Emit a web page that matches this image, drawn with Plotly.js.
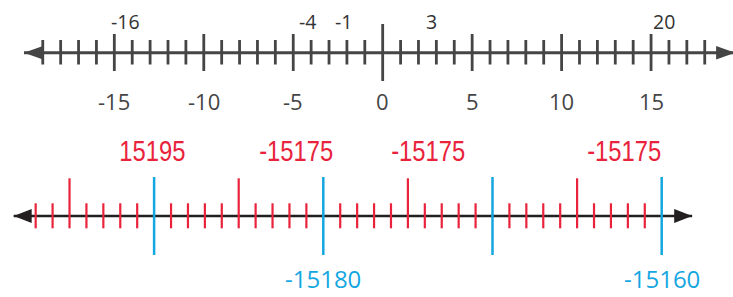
<!DOCTYPE html>
<html><head><meta charset="utf-8">
<script src="https://cdn.plot.ly/plotly-3.0.1.min.js"></script>
<style>html,body{margin:0;padding:0;background:#fff;overflow:hidden}</style>
</head><body><div id="chart" style="width:733px;height:297px"></div>
<script>
// ---------- Data: top number line ----------
const topTicks = [-19,-18,-17,-16,-15,-14,-13,-12,-11,-10,-9,-8,-7,-6,-5,-4,-3,-2,-1,0,1,2,3,4,5,6,7,8,9,10,11,12,13,14,15,16,17,18];
const topMajorTicks = [-15,-10,-5,5,10,15];
const topZeroTick = [0];
const topAxisLabels = [-15,-10,-5,0,5,10,15];
const topMarkLabels = ['-16','-4','-1','3','20'];
const topMarkPos = [-14.4,-4.2,-2.2,2.75,15.7];
const topLineEnds = [-20.05, 19.7];

// ---------- Data: bottom number line ----------
const botRedMinor = [-15197,-15196,-15194,-15193,-15192,-15191,-15189,-15188,-15187,-15186,-15184,-15183,-15182,-15181,-15179,-15178,-15177,-15176,-15174,-15173,-15172,-15171,-15169,-15168,-15167,-15166,-15164,-15163,-15162,-15161];
const botRedTall = [-15195,-15185,-15175,-15165];
const botBlue = [-15190,-15180,-15170,-15160];
const botRedLabels = ['15195','-15175','-15175','-15175'];
const botRedLabelPos = [-15190.1,-15181.6,-15173.8,-15162.2];
const botBlueLabels = ['-15180','-15160'];
const botBluePos = [-15180,-15160];
const botLineEnds = [-15198.3, -15158.2];

// ---------- Layout constants (pixels) ----------
const W = 733, H = 297;
const topRange = [-21.39, 19.58];
const botRange = [-15199.108, -15155.786];
const topPx = W/(topRange[1]-topRange[0]);
const botPx = W/(botRange[1]-botRange[0]);
const GRAY = '#454545', BLACK = '#231f20', RED = '#e8233b', BLUE = '#14a6e1';
const topY = 52.7, botY = 216;
const RED_SQUEEZE = 0.82;

function segs(vals, y1, y2){
  const x=[], y=[];
  vals.forEach(v=>{x.push(v,v,null); y.push(y1,y2,null);});
  return {x,y};
}
function tickTrace(vals,y1,y2,color,width,xa){
  const s=segs(vals,y1,y2);
  return {x:s.x,y:s.y,xaxis:xa,yaxis:'y',mode:'lines',line:{color,width},hoverinfo:'skip',showlegend:false};
}
function arrow(tip,dir,len,half,yc,pxPerUnit,color,xa){
  const base = tip + dir*len/pxPerUnit;
  return {x:[tip,base,base,tip],y:[yc,yc-half,yc+half,yc],xaxis:xa,yaxis:'y',mode:'lines',fill:'toself',
    fillcolor:color,line:{color,width:0},hoverinfo:'skip',showlegend:false};
}

const traces = [
  {x:topLineEnds,y:[topY,topY],xaxis:'x',yaxis:'y',mode:'lines',line:{color:GRAY,width:3},hoverinfo:'skip',showlegend:false},
  tickTrace(topTicks.filter(v=>!topMajorTicks.includes(v)&&!topZeroTick.includes(v)),40,64.5,GRAY,2.8,'x'),
  tickTrace(topMajorTicks,34,71,GRAY,2.8,'x'),
  tickTrace(topZeroTick,24,81,GRAY,2.8,'x'),
  arrow(topLineEnds[0],1,19,6.7,topY,topPx,GRAY,'x'),
  arrow(topLineEnds[1],-1,19,6.7,topY,topPx,GRAY,'x'),
  {x:botLineEnds,y:[botY,botY],xaxis:'x2',yaxis:'y',mode:'lines',line:{color:BLACK,width:2.6},hoverinfo:'skip',showlegend:false},
  tickTrace(botRedMinor,203.3,228.3,RED,2.2,'x2'),
  tickTrace(botRedTall,178.3,228.3,RED,2.2,'x2'),
  tickTrace(botBlue,177,255,BLUE,2.5,'x2'),
  arrow(botLineEnds[0],1,18,6.9,botY,botPx,BLACK,'x2'),
  arrow(botLineEnds[1],-1,18,6.9,botY,botPx,BLACK,'x2')
];

const annotations = [];
topMarkLabels.forEach((t,i)=>annotations.push({x:topMarkPos[i],y:21.5,xref:'x',yref:'y',text:t,showarrow:false,
  font:{family:'Open Sans, sans-serif',size:19.5,color:'#333'},xanchor:'center',yanchor:'middle'}));
topAxisLabels.forEach(v=>annotations.push({x:v,y:101,xref:'x',yref:'y',text:String(v),showarrow:false,
  font:{family:'Open Sans, sans-serif',size:22,color:GRAY},xanchor:'center',yanchor:'middle'}));
botRedLabels.forEach((t,i)=>annotations.push({x:botRedLabelPos[i],y:150.5,xref:'x2',yref:'y',text:t,showarrow:false,
  font:{family:'Liberation Sans, Arial, sans-serif',size:29,color:RED},xanchor:'center',yanchor:'middle'}));
botBlueLabels.forEach((t,i)=>annotations.push({x:botBluePos[i],y:278,xref:'x2',yref:'y',text:t,showarrow:false,
  font:{family:'Open Sans, sans-serif',size:24,color:BLUE},xanchor:'center',yanchor:'middle'}));

const layout = {
  width:W,height:H,margin:{l:0,r:0,t:0,b:0},paper_bgcolor:'#fff',plot_bgcolor:'#fff',showlegend:false,
  xaxis:{range:topRange,visible:false,fixedrange:true,domain:[0,1]},
  xaxis2:{range:botRange,visible:false,fixedrange:true,overlaying:'x',anchor:'y'},
  yaxis:{range:[H,0],visible:false,fixedrange:true,domain:[0,1]},
  annotations
};
Plotly.newPlot('chart',traces,layout,{staticPlot:true,displayModeBar:false}).then(gd=>{
  // condense the red labels horizontally (narrow typeface look) around their own centre
  const redStart = topMarkLabels.length + topAxisLabels.length;
  gd.querySelectorAll('.annotation').forEach(g=>{
    const idx = +g.getAttribute('data-index');
    if(idx>=redStart && idx<redStart+botRedLabels.length){
      const txt = g.querySelector('text.annotation-text');
      if(!txt) return;
      const bb = txt.getBBox();
      const cx = bb.x + bb.width/2;
      const prev = txt.getAttribute('transform') || '';
      txt.setAttribute('transform', prev + ` translate(${cx},0) scale(${RED_SQUEEZE},1) translate(${-cx},0)`);
    }
  });
});
</script></body></html>
